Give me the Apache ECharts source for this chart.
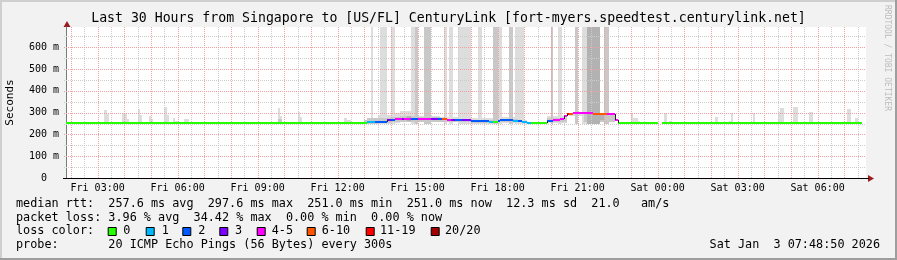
<!DOCTYPE html>
<html><head><meta charset="utf-8">
<script src="https://cdn.jsdelivr.net/npm/echarts@6/dist/echarts.min.js"></script>
<style>html,body{margin:0;padding:0;background:#f2f2f2}#c{width:897px;height:260px}</style>
</head><body><div id="c"></div>
<script>
// ---------- data ----------
const chartTitle = 'Last 30 Hours from Singapore to [US/FL] CenturyLink [fort-myers.speedtest.centurylink.net]';
const rangeStart = '01:48:50';   // Fri
const rangeEnd = '31:48:50';     // Sat 07:48:50 (hours past Fri 00:00)
const xLabelHours = [3, 6, 9, 12, 15, 18, 21, 24, 27, 30];
const yTickValues = [0, 100, 200, 300, 400, 500, 600];
const yTop = 693;
const lossLabels = ['0', '1', '2', '3', '4-5', '6-10', '11-19', '20/20'];
const lossColors = ['#26ff00', '#00b8ff', '#0059ff', '#7e00ff', '#ff00ff', '#ff5500', '#ff0000', '#a00000'];
const smokeShades = ['#dddddd', '#c8c8c8', '#b2b2b2'];

// median rtt runs (start time, ms, loss class)
const medianStart = ['01:45','13:05','13:25','13:50','14:00','14:10','14:25','14:30','14:45','15:00','15:30','15:45','15:55','16:05','16:15','16:25','16:40','17:00','17:40','17:50','18:00','18:05','18:20','18:35','18:45','18:55','19:05','19:15','19:50','20:05','20:20','20:30','20:35','20:40','20:50','21:35','22:05','22:25','22:30','24:00','24:10'];
const medianValue = [251,255,259,264,266,270,272,273,272,271,270,269,269,268,267,266,265,262,257,255,262,268,267,262,260,257,253,252,262,266,270,285,296,296,297,296,295,268,251,null,251];
const medianLoss  = [0,1,2,3,2,4,3,4,2,4,3,2,5,4,3,2,3,2,1,0,2,2,2,1,2,1,1,0,2,4,4,4,6,5,4,5,4,4,0,0,0];
const medianEnd = '31:40';

// smoke bands: [from, to, low ms, high ms, shade]
const smokeBands = [
  ['03:15','03:20',251,312,0],['03:15','03:25',251,292,0],['03:55','04:05',251,297,0],['04:00','04:10',251,271,0],
  ['04:30','04:35',251,317,0],['04:30','04:40',251,289,0],['04:55','05:00',251,286,0],['04:55','05:05',251,271,0],
  ['05:30','05:35',251,325,0],['05:30','05:40',251,289,0],['05:50','05:55',251,275,0],['05:50','06:00',251,262,0],
  ['06:15','06:25',251,271,0],['09:45','09:50',251,321,0],['09:45','09:55',251,285,0],['09:45','09:55',251,271,1],
  ['10:30','10:35',251,303,0],['10:30','10:40',251,280,0],['12:15','12:20',251,275,0],['12:15','12:30',251,266,0],
  ['13:00','13:05',250,265,1],['13:05','13:30',248,274,1],['13:30','14:00',250,290,0],['13:30','14:00',252,275,1],
  ['14:00','14:20',252,297,0],['14:00','14:20',255,282,1],['14:20','15:00',255,309,0],['14:20','15:00',258,285,1],
  ['14:35','14:45',263,283,2],['15:00','15:50',255,285,0],['15:00','15:50',258,278,1],['15:50','17:00',255,280,0],
  ['15:50','17:00',258,272,1],['17:00','17:50',250,275,0],['17:00','17:50',252,268,1],['18:05','18:45',252,280,0],
  ['18:05','18:45',255,272,1],['18:45','19:05',250,267,0],['19:50','20:35',252,285,0],['19:50','20:35',255,275,1],
  ['20:40','21:15',286,298,0],['21:15','22:25',258,294,1],['21:35','21:50',250,290,2],['21:50','22:00',266,294,2],
  ['13:15','13:20',250,700,0],['13:35','13:50',250,700,0],['14:00','14:10',250,700,0],['14:45','15:00',250,700,0],
  ['14:55','15:00',250,700,1],['15:15','15:30',250,700,1],['16:00','16:05',250,700,0],['16:10','16:20',250,700,0],
  ['16:30','17:00',250,700,0],['17:15','17:25',250,700,0],['17:50','18:00',250,700,1],['18:00','18:10',250,700,0],
  ['18:25','18:35',250,700,1],['18:40','19:00',250,700,0],['20:00','20:05',250,700,1],['20:15','20:25',250,700,0],
  ['20:55','21:00',250,700,1],['21:10','21:20',250,700,0],['21:20','21:50',250,700,2],['22:00','22:10',250,700,1],
  ['23:00','23:05',251,297,0],['23:05','23:15',251,274,0],['23:15','23:20',251,262,0],['24:15','24:20',251,297,0],
  ['24:25','24:30',251,262,0],['26:05','26:10',251,257,0],['26:10','26:15',251,281,0],['26:40','26:45',251,262,0],
  ['26:45','26:50',251,300,0],['27:25','27:35',251,258,0],['27:35','27:40',251,297,0],['28:30','28:35',251,305,0],
  ['28:35','28:45',251,322,0],['29:05','29:15',251,325,0],['29:40','29:50',251,302,0],['31:05','31:15',251,315,0],
  ['31:25','31:30',251,275,0]
];

// legend texts (monospace lines)
const statLines = [
  'median rtt:  257.6 ms avg  297.6 ms max  251.0 ms min  251.0 ms now  12.3 ms sd  21.0   am/s',
  'packet loss: 3.96 % avg  34.42 % max  0.00 % min  0.00 % now',
  'loss color:',
  'probe:       20 ICMP Echo Pings (56 Bytes) every 300s'
];
const statLineY = [204, 217.7, 231.4, 245];
const lossBoxX = [107.7,145.7,182.3,219.3,256.7,306.7,365.7,430.7];
const lossLabelX = [123.3,161.7,198.3,235,271.7,321.7,380,445];
const stampText = 'Sat Jan  3 07:48:50 2026';

// ---------- helpers ----------
function toHours(s){ const p = s.split(':').map(Number); return p[0] + p[1]/60 + (p[2]||0)/3600; }
const xMin = toHours(rangeStart), xMax = toHours(rangeEnd);
const MONO = '"DejaVu Sans Mono", monospace';
const LEG_FONT = '11.8px ' + MONO;

const medianData = [];
for (let i = 0; i < medianStart.length; i++) {
  const t0 = toHours(medianStart[i]);
  const t1 = i + 1 < medianStart.length ? toHours(medianStart[i+1]) : toHours(medianEnd);
  if (medianValue[i] == null) continue;
  const prev = i > 0 ? medianValue[i-1] : null;
  medianData.push([t0, t1, medianValue[i], prev == null ? NaN : prev, medianLoss[i]]);
}
const smokeData = smokeBands.map(b => [toHours(b[0]), toHours(b[1]), b[2], Math.min(b[3], yTop), b[4]])
  .sort((a, b) => a[4] - b[4]);

const vMinor = [], vMajor = [], hMinor = [], hMajor = [];
for (let h = 2; h <= 31.5; h += 0.5) (h % 1 === 0 ? vMajor : vMinor).push([h, 0]);
for (let v = 50; v < yTop; v += 50) (v % 100 === 0 ? hMajor : hMinor).push([0, v]);

function clipR(r, cs){ return echarts.graphic.clipRectByRect(r, {x: cs.x, y: cs.y, width: cs.width, height: cs.height}); }

function renderSmoke(params, api){
  const p0 = api.coord([api.value(0), api.value(2)]);
  const p1 = api.coord([api.value(1), api.value(3)]);
  const x0 = Math.round(p0[0]), x1 = Math.round(p1[0]);
  const y0 = Math.round(p0[1]), y1 = Math.round(p1[1]);
  const r = clipR({x: x0, y: y1, width: x1 - x0, height: y0 - y1}, params.coordSys);
  return r && {type: 'rect', shape: r, style: {fill: smokeShades[api.value(4)]}};
}
function renderMedian(params, api){
  const cs = params.coordSys;
  const p0 = api.coord([api.value(0), api.value(2)]);
  const p1 = api.coord([api.value(1), api.value(2)]);
  const x0 = Math.max(Math.round(p0[0]), cs.x), x1 = Math.min(Math.round(p1[0]), cs.x + cs.width);
  const y = Math.round(p0[1]);
  const children = [{type: 'rect', shape: {x: x0, y: y - 1, width: x1 - x0, height: 2}, style: {fill: lossColors[api.value(4)]}}];
  const prev = api.value(3);
  if (!isNaN(prev)) {
    const yp = Math.round(api.coord([api.value(0), prev])[1]);
    if (Math.abs(yp - y) > 1) children.push({type: 'line', shape: {x1: x0 + 0.5, y1: yp, x2: x0 + 0.5, y2: y}, style: {stroke: '#222', lineWidth: 1}});
  }
  return {type: 'group', children};
}
function vLine(color){
  return function(params, api){
    const cs = params.coordSys;
    const x = Math.round(api.coord([api.value(0), 0])[0]) + 0.5;
    return {type: 'line', shape: {x1: x, y1: cs.y, x2: x, y2: cs.y + cs.height}, style: {stroke: color, lineWidth: 1, lineDash: [1, 1]}};
  };
}
function hLine(color){
  return function(params, api){
    const cs = params.coordSys;
    const y = Math.round(api.coord([xMin, api.value(1)])[1]) + 0.5;
    return {type: 'line', shape: {x1: cs.x - 2, y1: y, x2: cs.x + cs.width, y2: y}, style: {stroke: color, lineWidth: 1, lineDash: [1, 1]}};
  };
}
const pad = n => (n < 10 ? '0' : '') + n;
function txt(x, y, text, font, align, extra){
  return Object.assign({type: 'text', x: x, y: y, silent: true, style: {text: text, font: font, fill: '#000', align: align, verticalAlign: 'middle', textAlign: align, textVerticalAlign: 'middle'}}, extra || {});
}

// ---------- graphic (frame, titles, legend) ----------
const graphic = [
  {type: 'rect', shape: {x: 0, y: 0, width: 897, height: 2}, style: {fill: '#cfcfcf'}, silent: true},
  {type: 'rect', shape: {x: 0, y: 0, width: 2, height: 260}, style: {fill: '#cfcfcf'}, silent: true},
  {type: 'rect', shape: {x: 0, y: 258, width: 897, height: 2}, style: {fill: '#9e9e9e'}, silent: true},
  {type: 'rect', shape: {x: 895, y: 0, width: 2, height: 260}, style: {fill: '#9e9e9e'}, silent: true},
  txt(448.5, 19, chartTitle, '13.2px ' + MONO, 'center'),
  txt(10, 102.5, 'Seconds', '11px ' + MONO, 'center', {rotation: Math.PI / 2}),
  {type: 'text', x: 887, y: 5, rotation: -Math.PI / 2, silent: true, style: {text: 'RRDTOOL / TOBI OETIKER', font: '8px ' + MONO, fill: '#bdbdbd', align: 'left', verticalAlign: 'middle', textAlign: 'left', textVerticalAlign: 'middle'}},
  {type: 'polygon', shape: {points: [[67, 21], [63.5, 27], [70.5, 27]]}, style: {fill: '#9b1c1c'}, silent: true},
  {type: 'polygon', shape: {points: [[874, 178.5], [868, 175], [868, 182]]}, style: {fill: '#9b1c1c'}, silent: true},
  {type: 'rect', shape: {x: 866, y: 178, width: 3, height: 1}, style: {fill: '#000'}, silent: true},
  {type: 'rect', shape: {x: 63, y: 178, width: 3, height: 1}, style: {fill: '#000'}, silent: true},
  txt(880, statLineY[3], stampText, LEG_FONT, 'right')
];
statLines.forEach((s, i) => graphic.push(txt(16, statLineY[i], s, LEG_FONT, 'left')));
lossLabels.forEach((lab, i) => {
  graphic.push({type: 'rect', shape: {x: lossBoxX[i] + 0.5, y: 227.5, width: 8, height: 8}, style: {fill: lossColors[i], stroke: '#000', lineWidth: 1}, silent: true});
  graphic.push(txt(lossLabelX[i], statLineY[2], lab, LEG_FONT, 'left'));
});

// ---------- chart ----------
const chart = echarts.init(document.getElementById('c'), null, {renderer: 'canvas'});
chart.setOption({
  backgroundColor: '#f2f2f2',
  animation: false,
  grid: {left: 66, right: 31, top: 27, bottom: 82, show: true, backgroundColor: '#ffffff', borderWidth: 0},
  xAxis: {
    type: 'value', min: xMin, max: xMax,
    axisLine: {show: true, lineStyle: {color: '#000', width: 1}},
    axisTick: {show: false},
    splitLine: {show: false},
    axisLabel: {
      customValues: xLabelHours, margin: 5, color: '#000', fontFamily: MONO, fontSize: 10,
      formatter: v => (v < 24 ? 'Fri ' : 'Sat ') + pad(Math.round(v) % 24) + ':00'
    }
  },
  yAxis: {
    type: 'value', min: 0, max: yTop, interval: 100,
    axisLine: {show: true, lineStyle: {color: '#7a7a7a', width: 1}},
    axisTick: {show: false},
    splitLine: {show: false},
    axisLabel: {
      margin: 7, color: '#000', fontFamily: MONO, fontSize: 10, showMaxLabel: false,
      formatter: v => (yTickValues.indexOf(v) < 0 ? '' : (v === 0 ? '0  ' : v + ' m'))
    }
  },
  series: [
    {type: 'custom', name: 'smoke', renderItem: renderSmoke, data: smokeData, encode: {x: [0, 1], y: [2, 3]}, z: 1, silent: true},
    {type: 'custom', renderItem: vLine('#cccccc'), data: vMinor, encode: {x: 0, y: 1}, z: 2, silent: true},
    {type: 'custom', renderItem: hLine('#cccccc'), data: hMinor, encode: {x: 0, y: 1}, z: 2, silent: true},
    {type: 'custom', renderItem: vLine('#f0a0a0'), data: vMajor, encode: {x: 0, y: 1}, z: 3, silent: true},
    {type: 'custom', renderItem: hLine('#f0a0a0'), data: hMajor, encode: {x: 0, y: 1}, z: 3, silent: true},
    {type: 'custom', name: 'median rtt', renderItem: renderMedian, data: medianData, encode: {x: [0, 1], y: 2}, z: 5, silent: true}
  ],
  graphic: graphic
});
</script></body></html>
